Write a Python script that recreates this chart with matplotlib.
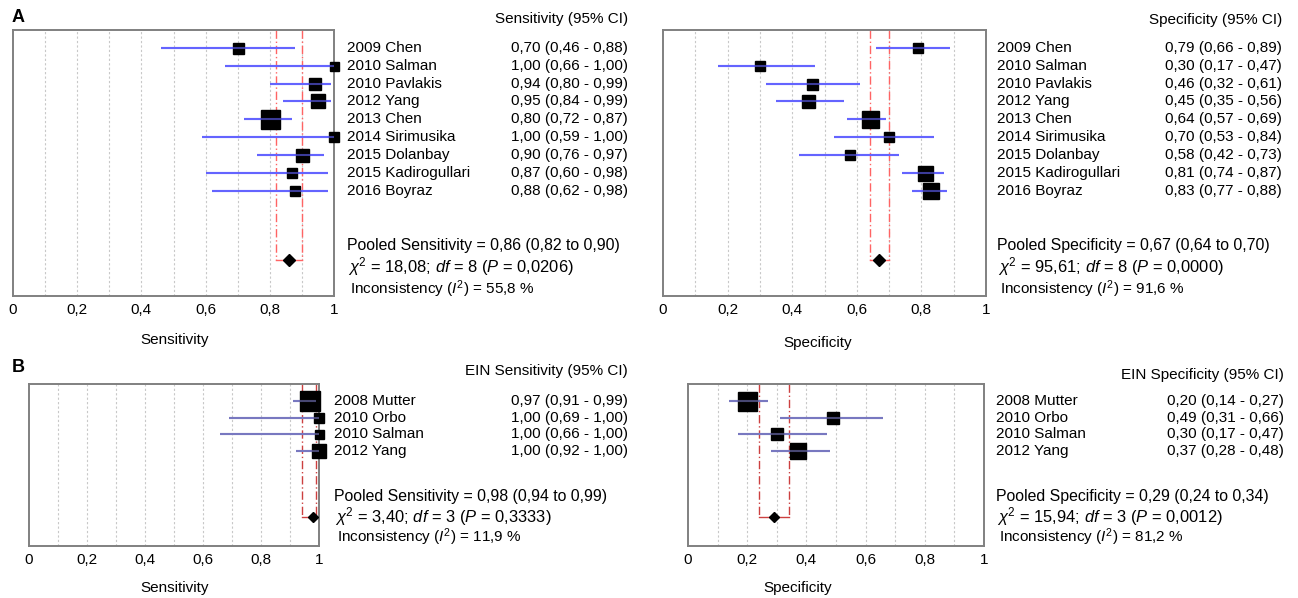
import matplotlib
matplotlib.use("Agg")
import matplotlib.pyplot as plt
from matplotlib.transforms import blended_transform_factory

plt.rcParams['font.family'] = ['Liberation Sans', 'DejaVu Sans']
plt.rcParams['mathtext.fontset'] = 'custom'
plt.rcParams['mathtext.rm'] = 'Liberation Sans'
plt.rcParams['mathtext.it'] = 'Liberation Sans:italic'

# ---- data: panel A (all studies) ----
a_studies = ['2009 Chen', '2010 Salman', '2010 Pavlakis', '2012 Yang', '2013 Chen',
             '2014 Sirimusika', '2015 Dolanbay', '2015 Kadirogullari', '2016 Boyraz']
a_sens = [0.70, 1.00, 0.94, 0.95, 0.80, 1.00, 0.90, 0.87, 0.88]
a_sens_lo = [0.46, 0.66, 0.80, 0.84, 0.72, 0.59, 0.76, 0.60, 0.62]
a_sens_hi = [0.88, 1.00, 0.99, 0.99, 0.87, 1.00, 0.97, 0.98, 0.98]
a_sens_w = [11, 9, 12, 14, 19, 9.5, 13, 10, 10.5]
a_spec = [0.79, 0.30, 0.46, 0.45, 0.64, 0.70, 0.58, 0.81, 0.83]
a_spec_lo = [0.66, 0.17, 0.32, 0.35, 0.57, 0.53, 0.42, 0.74, 0.77]
a_spec_hi = [0.89, 0.47, 0.61, 0.56, 0.69, 0.84, 0.73, 0.87, 0.88]
a_spec_w = [10.7, 10, 11, 13, 17, 10, 10, 15, 16]
a_pool_sens = (0.86, 0.82, 0.90)
a_pool_spec = (0.67, 0.64, 0.70)
a_sens_stats = ('18,08', '8', '0,0206', '55,8')
a_spec_stats = ('95,61', '8', '0,0000', '91,6')

# ---- data: panel B (EIN) ----
b_studies = ['2008 Mutter', '2010 Orbo', '2010 Salman', '2012 Yang']
b_sens = [0.97, 1.00, 1.00, 1.00]
b_sens_lo = [0.91, 0.69, 0.66, 0.92]
b_sens_hi = [0.99, 1.00, 1.00, 1.00]
b_sens_w = [20, 10, 9, 14]
b_spec = [0.20, 0.49, 0.30, 0.37]
b_spec_lo = [0.14, 0.31, 0.17, 0.28]
b_spec_hi = [0.27, 0.66, 0.47, 0.48]
b_spec_w = [19, 12, 12, 16]
b_pool_sens = (0.98, 0.94, 0.99)
b_pool_spec = (0.29, 0.24, 0.34)
b_sens_stats = ('3,40', '3', '0,3333', '11,9')
b_spec_stats = ('15,94', '3', '0,0012', '81,2')

W, H = 1298, 598
fig = plt.figure(figsize=(W / 100, H / 100), dpi=100)
FS = 11


def fx(px):
    return px / W


def fy(py):
    return 1 - py / H


def dec(v):
    return f'{v:.2f}'.replace('.', ',')


def forest(box, studies, est, lo, hi, w, pooled, stats, name, header,
           lab_x, val_x, pool_y, tick_y, xlab_pos, ylim, diamond_y,
           blue, red, dms):
    left, top, right, bottom = box
    ax = fig.add_axes([fx(left), fy(bottom), fx(right - left), (bottom - top) / H])
    ypos = list(range(len(studies)))
    ax.set_xlim(0, 1)
    ax.set_ylim(*ylim)
    for g in [i / 10 for i in range(1, 10)]:
        ax.axvline(g, color='#c8c8c8', lw=0.8, ls=(0, (2, 2)), zorder=0)
    # pooled CI bracket
    p, plo, phi = pooled
    ax.plot([plo, plo], [ylim[1], diamond_y], color=red, lw=1, ls=(0, (6, 2, 1, 2)), zorder=1)
    ax.plot([phi, phi], [ylim[1], diamond_y], color=red, lw=1, ls=(0, (6, 2, 1, 2)), zorder=1)
    ax.plot([plo, phi], [diamond_y, diamond_y], color=red, lw=1, zorder=1)
    ax.hlines(ypos, lo, hi, color=blue, lw=1.5, zorder=2)
    for y, e, s in zip(ypos, est, w):
        ax.plot(e, y, marker='s', ms=s * 0.72, color='black', mec='black',
                clip_on=False, zorder=3)
    for y, l, h in zip(ypos, lo, hi):
        ax.hlines(y, l, h, color=blue, lw=1.5, zorder=4, alpha=0.6)
    ax.plot(p, diamond_y, marker='D', ms=dms, color='black', zorder=5)
    for s in ax.spines.values():
        s.set_color('#808080')
        s.set_linewidth(1.4)
    ax.set_yticks([])
    ax.set_xticks([0, 0.2, 0.4, 0.6, 0.8, 1.0])
    ax.set_xticklabels(['0', '0,2', '0,4', '0,6', '0,8', '1'])
    ax.tick_params(axis='x', length=0, labelsize=FS,
                   pad=(tick_y - bottom) * 0.72 - FS * 0.5)

    tr = blended_transform_factory(fig.transFigure, ax.transData)
    for y, st, e, l, h in zip(ypos, studies, est, lo, hi):
        fig.text(fx(lab_x), y, st, transform=tr, fontsize=FS, va='center', ha='left')
        fig.text(fx(val_x), y, f'{dec(e)} ({dec(l)} - {dec(h)})', transform=tr,
                 fontsize=FS, va='center', ha='right')
    fig.text(fx(val_x), fy(header[1]), header[0], fontsize=FS, ha='right', va='center')
    chi, df, pv, i2 = stats
    fig.text(fx(lab_x), fy(pool_y[0]),
             f'Pooled {name} = {dec(p)} ({dec(plo)} to {dec(phi)})',
             fontsize=FS + 0.4, va='center', ha='left')
    fig.text(fx(lab_x + 1), fy(pool_y[1]),
             r'$\chi^2$' + f' = {chi}; ' + r'$df$' + f' = {df} (' + r'$P$' + f' = {pv})',
             fontsize=FS + 0.9, va='center', ha='left')
    fig.text(fx(lab_x + 3), fy(pool_y[2]),
             'Inconsistency (' + r'$I^2$' + f') = {i2} %',
             fontsize=FS, va='center', ha='left')
    fig.text(fx(xlab_pos[0]), fy(xlab_pos[1]), name, fontsize=FS, ha='center', va='center')
    return ax


forest((13, 30, 334, 296), a_studies, a_sens, a_sens_lo, a_sens_hi, a_sens_w,
       a_pool_sens, a_sens_stats, 'Sensitivity', ('Sensitivity (95% CI)', 19),
       347, 628, (246, 267, 289), 311, (175, 340), (13.9, -1.0), 11.9,
       '#6464ff', '#ff6464', 6.2)
forest((663, 30, 986, 296), a_studies, a_spec, a_spec_lo, a_spec_hi, a_spec_w,
       a_pool_spec, a_spec_stats, 'Specificity', ('Specificity (95% CI)', 20),
       997, 1282, (245, 267, 289), 311, (818, 343), (13.9, -1.0), 11.9,
       '#6464ff', '#ff6464', 6.2)
forest((29, 384, 319, 546), b_studies, b_sens, b_sens_lo, b_sens_hi, b_sens_w,
       b_pool_sens, b_sens_stats, 'Sensitivity', ('EIN Sensitivity (95% CI)', 371),
       334, 628, (497, 517, 537), 561, (175, 588), (8.65, -1.0), 6.9,
       '#7878c0', '#cc4040', 4.8)
forest((688, 384, 984, 546), b_studies, b_spec, b_spec_lo, b_spec_hi, b_spec_w,
       b_pool_spec, b_spec_stats, 'Specificity', ('EIN Specificity (95% CI)', 375),
       996, 1284, (497, 517, 537), 561, (798, 588), (8.65, -1.0), 6.9,
       '#7878c0', '#cc4040', 4.8)

fig.text(fx(12), fy(17), 'A', fontsize=13, fontweight='bold', va='center', ha='left')
fig.text(fx(12), fy(368), 'B', fontsize=13, fontweight='bold', va='center', ha='left')

fig.savefig('out.png', dpi=100)
